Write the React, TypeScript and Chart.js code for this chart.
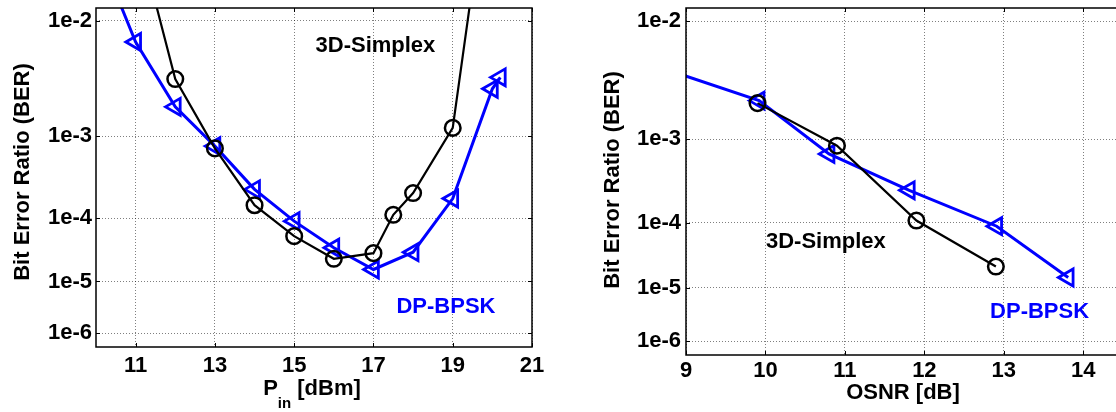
import React, { useEffect, useRef } from "react";
import { Chart, registerables } from "chart.js";

Chart.register(...registerables);

const FONT = '"Liberation Sans", Arial, Helvetica, sans-serif';

// y axis: BER shown on a log(-log) scale
const BER_TICKS = [1e-2, 1e-3, 1e-4, 1e-5, 1e-6];
const BER_TICK_LABELS = ["1e-2", "1e-3", "1e-4", "1e-5", "1e-6"];

// Left panel: BER vs launch power
const PIN_TICKS = [11, 13, 15, 17, 19, 21];
const PIN_SIMPLEX_X = [11, 12, 13, 14, 15, 16, 17, 17.5, 18, 19, 20];
const PIN_SIMPLEX_BER = [3.7e-2, 3.52e-3, 7.39e-4, 1.5e-4, 5.46e-5, 2.42e-5, 2.98e-5, 1.11e-4, 2.17e-4, 1.22e-3, 8.5e-2];
const PIN_BPSK_X = [10, 11, 12, 13, 14, 15, 16, 17, 18, 19, 20, 20.2];
const PIN_BPSK_BER = [2.95e-2, 7.02e-3, 1.97e-3, 7.83e-4, 2.42e-4, 9.04e-5, 3.63e-5, 1.61e-5, 3.09e-5, 1.84e-4, 2.89e-3, 3.64e-3];

// Right panel: BER vs OSNR
const OSNR_TICKS = [9, 10, 11, 12, 13, 14];
const OSNR_SIMPLEX_X = [9.9, 10.9, 11.9, 12.9];
const OSNR_SIMPLEX_BER = [2.24e-3, 8.57e-4, 1.08e-4, 2.26e-5];
const OSNR_BPSK_X = [8.9, 9.92, 10.8, 11.81, 12.91, 13.81];
const OSNR_BPSK_BER = [4.05e-3, 2.36e-3, 7.0e-4, 2.66e-4, 9.03e-5, 1.5e-5];

const SERIES_NAMES = ["3D-Simplex", "DP-BPSK"];
const SERIES_COLORS = ["#000000", "#0000ff"];

const q = (ber: number) => Math.log10(-Math.log10(ber));
const U_MIN = 0.2813;
const U_MAX = 0.799;
const GRID = "rgba(0,0,0,0.5)";

type Part = { text: string; size: number; dy: number };
type Annot = { text: string; x: number; ber: number; color: string };

// keep the plot area exactly where the layout padding puts it (markers are clipped anyway)
const noOverflowPlugin = {
  id: "noOverflow",
  beforeElementsUpdate(chart: any) {
    chart.data.datasets.forEach((_d: any, i: number) => {
      const meta = chart.getDatasetMeta(i);
      if (meta && meta.controller) meta.controller.getMaxOverflow = () => 0;
    });
  },
};

function makeDecor(cfg: {
  xTitle: Part[];
  xTitleBaseline: number;
  xTitleShift: number;
  yTitleX: number;
  yTitleY: number;
  annotations: Annot[];
}) {
  return {
    id: "decor",
    afterDraw(chart: any) {
      const { ctx, chartArea: a, scales } = chart;
      const xs = scales.x;
      const ys = scales.y;
      ctx.save();
      ctx.strokeStyle = "#000";
      ctx.lineWidth = 1.5;
      ctx.strokeRect(a.left, a.top, a.right - a.left, a.bottom - a.top);
      ctx.lineWidth = 1;
      const TL = 4;
      ctx.beginPath();
      for (const t of xs.ticks) {
        const px = Math.round(xs.getPixelForValue(t.value)) + 0.5;
        ctx.moveTo(px, a.bottom);
        ctx.lineTo(px, a.bottom - TL);
        ctx.moveTo(px, a.top);
        ctx.lineTo(px, a.top + TL);
      }
      for (const t of ys.ticks) {
        const py = Math.round(ys.getPixelForValue(t.value)) + 0.5;
        ctx.moveTo(a.left, py);
        ctx.lineTo(a.left + TL, py);
        ctx.moveTo(a.right, py);
        ctx.lineTo(a.right - TL, py);
      }
      ctx.stroke();

      ctx.textAlign = "center";
      ctx.textBaseline = "middle";
      ctx.font = `bold 22px ${FONT}`;
      for (const an of cfg.annotations) {
        ctx.fillStyle = an.color;
        ctx.fillText(an.text, xs.getPixelForValue(an.x), ys.getPixelForValue(q(an.ber)));
      }

      // x title with optional subscript
      ctx.fillStyle = "#000";
      ctx.textAlign = "left";
      ctx.textBaseline = "alphabetic";
      let total = 0;
      const widths = cfg.xTitle.map((p) => {
        ctx.font = `bold ${p.size}px ${FONT}`;
        const w = ctx.measureText(p.text).width;
        total += w;
        return w;
      });
      let cx = (a.left + a.right) / 2 - total / 2 + cfg.xTitleShift;
      cfg.xTitle.forEach((p, i) => {
        ctx.font = `bold ${p.size}px ${FONT}`;
        ctx.fillText(p.text, cx, cfg.xTitleBaseline + p.dy);
        cx += widths[i];
      });

      // y title
      ctx.save();
      ctx.translate(cfg.yTitleX, cfg.yTitleY);
      ctx.rotate(-Math.PI / 2);
      ctx.textAlign = "center";
      ctx.textBaseline = "middle";
      ctx.font = `bold 22px ${FONT}`;
      ctx.fillText("Bit Error Ratio (BER)", 0, 0);
      ctx.restore();
      ctx.restore();
    },
  };
}

function seriesDataset(idx: number, xs: number[], bers: number[]) {
  const color = SERIES_COLORS[idx];
  const isTri = idx === 1;
  return {
    label: SERIES_NAMES[idx],
    data: xs.map((x, i) => ({ x, y: q(bers[i]) })),
    borderColor: color,
    borderWidth: isTri ? 3 : 2.2,
    pointStyle: isTri ? "triangle" : "circle",
    rotation: isTri ? -90 : 0,
    pointRadius: isTri ? 9.8 : 7.8,
    pointBorderWidth: isTri ? 2.8 : 2.5,
    pointBorderColor: color,
    pointBackgroundColor: "rgba(0,0,0,0)",
    tension: 0,
    clip: 0,
  };
}

function buildConfig(p: {
  xMin: number;
  xMax: number;
  xTicks: number[];
  simplexX: number[];
  simplexBer: number[];
  bpskX: number[];
  bpskBer: number[];
  rightPad: number;
  bottomEdge: number;
  yAxisWidth: number;
  xTickPad: number;
  yTickPad: number;
  decor: any;
}) {
  const tickFont = { size: 22, weight: "bold" as const, family: FONT };
  return {
    type: "line" as const,
    data: {
      datasets: [
        seriesDataset(0, p.simplexX, p.simplexBer),
        seriesDataset(1, p.bpskX, p.bpskBer),
      ],
    },
    options: {
      animation: false as const,
      responsive: false,
      events: [],
      layout: { padding: { left: 0, right: p.rightPad, top: 8, bottom: 0 } },
      plugins: { legend: { display: false }, tooltip: { enabled: false } },
      scales: {
        x: {
          type: "linear" as const,
          min: p.xMin,
          max: p.xMax,
          afterBuildTicks: (s: any) => {
            s.ticks = p.xTicks.map((v) => ({ value: v }));
          },
          afterFit: (s: any) => {
            s.height = 412 - p.bottomEdge;
            s.paddingLeft = 0;
            s.paddingRight = 0;
          },
          ticks: {
            font: tickFont,
            color: "#000",
            padding: p.xTickPad,
            maxRotation: 0,
            autoSkip: false,
            callback: (v: any) => String(v),
          },
          grid: { color: GRID, lineWidth: 1, drawTicks: false },
          border: { display: false, dash: [1, 2] },
        },
        y: {
          type: "linear" as const,
          min: U_MIN,
          max: U_MAX,
          reverse: true,
          afterBuildTicks: (s: any) => {
            s.ticks = BER_TICKS.map((b) => ({ value: q(b) }));
          },
          afterFit: (s: any) => {
            s.width = p.yAxisWidth;
            s.paddingTop = 0;
            s.paddingBottom = 0;
          },
          ticks: {
            font: tickFont,
            color: "#000",
            padding: p.yTickPad,
            autoSkip: false,
            callback: (v: any) => {
              const i = BER_TICKS.findIndex((b) => Math.abs(q(b) - v) < 1e-9);
              return i >= 0 ? BER_TICK_LABELS[i] : "";
            },
          },
          grid: { color: GRID, lineWidth: 1, drawTicks: false },
          border: { display: false, dash: [1, 2] },
        },
      },
    },
    plugins: [noOverflowPlugin, p.decor],
  };
}

function Panel(props: { left: number; width: number; config: any }) {
  const ref = useRef<HTMLCanvasElement | null>(null);
  useEffect(() => {
    if (!ref.current) return;
    const chart = new Chart(ref.current, props.config);
    return () => chart.destroy();
  }, []);
  return (
    <canvas
      ref={ref}
      width={props.width}
      height={412}
      style={{ position: "absolute", left: props.left, top: 0, width: props.width, height: 412 }}
    />
  );
}

const leftConfig = buildConfig({
  xMin: 10,
  xMax: 21,
  xTicks: PIN_TICKS,
  simplexX: PIN_SIMPLEX_X,
  simplexBer: PIN_SIMPLEX_BER,
  bpskX: PIN_BPSK_X,
  bpskBer: PIN_BPSK_BER,
  rightPad: 28,
  bottomEdge: 347,
  yAxisWidth: 96,
  xTickPad: 6,
  yTickPad: 4,
  decor: makeDecor({
    xTitle: [
      { text: "P", size: 22, dy: 0 },
      { text: "in", size: 15, dy: 13 },
      { text: " [dBm]", size: 22, dy: 0 },
    ],
    xTitleBaseline: 395,
    xTitleShift: -2,
    yTitleX: 23,
    yTitleY: 172,
    annotations: [
      { text: SERIES_NAMES[0], x: 17.05, ber: 6.5e-3, color: SERIES_COLORS[0] },
      { text: SERIES_NAMES[1], x: 18.83, ber: 3.36e-6, color: SERIES_COLORS[1] },
    ],
  }),
});

const rightConfig = buildConfig({
  xMin: 9,
  xMax: 14.5,
  xTicks: OSNR_TICKS,
  simplexX: OSNR_SIMPLEX_X,
  simplexBer: OSNR_SIMPLEX_BER,
  bpskX: OSNR_BPSK_X,
  bpskBer: OSNR_BPSK_BER,
  rightPad: 17,
  bottomEdge: 355,
  yAxisWidth: 106,
  xTickPad: 3,
  yTickPad: 5,
  decor: makeDecor({
    xTitle: [{ text: "OSNR [dB]", size: 22, dy: 0 }],
    xTitleBaseline: 399,
    xTitleShift: -1.5,
    yTitleX: 33,
    yTitleY: 180,
    annotations: [
      { text: SERIES_NAMES[0], x: 10.76, ber: 5.3e-5, color: SERIES_COLORS[0] },
      { text: SERIES_NAMES[1], x: 13.45, ber: 3.69e-6, color: SERIES_COLORS[1] },
    ],
  }),
});

export default function App() {
  return (
    <div
      style={{
        position: "absolute",
        left: 0,
        top: 0,
        width: 1116,
        height: 412,
        overflow: "hidden",
        background: "#fff",
      }}
    >
      <Panel left={0} width={560} config={leftConfig} />
      <Panel left={580} width={560} config={rightConfig} />
    </div>
  );
}
